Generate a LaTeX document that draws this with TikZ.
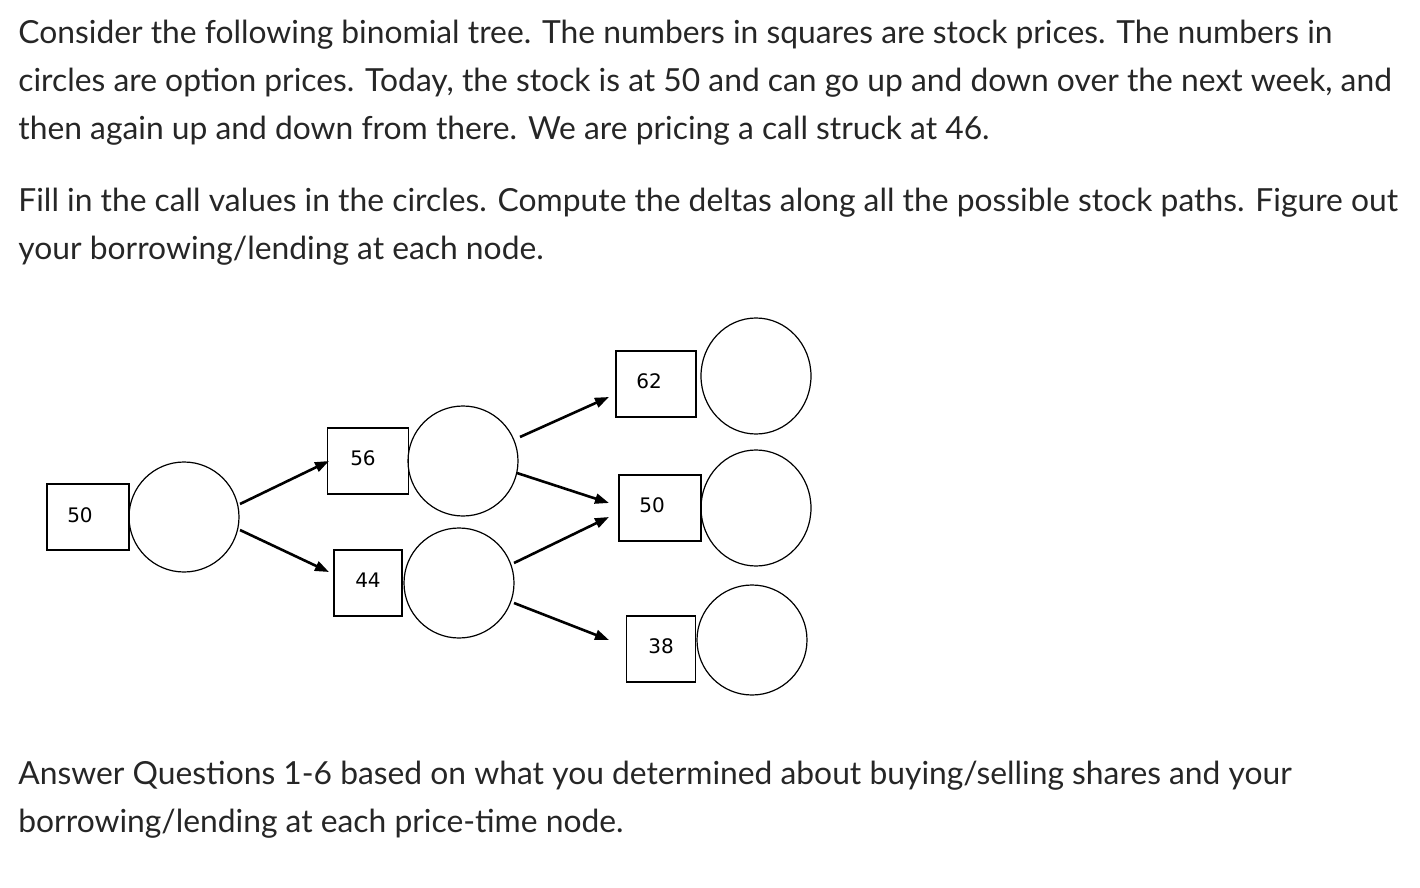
\documentclass[tikz,border=0pt]{standalone}
\usepackage{fontspec}
\setmainfont{Lato}
\newfontfamily\boxfont{DejaVu Sans}
\usetikzlibrary{arrows.meta,shapes.geometric}
\begin{document}
\begin{tikzpicture}[x=0.5pt,y=-0.5pt,
  para/.style={anchor=north west,align=left,font=\fontsize{15.9}{24}\selectfont,text=black!85,inner sep=0pt},
  pricebox/.style={draw,line width=0.6pt,minimum width=#1*0.5pt,minimum height=33pt,font=\boxfont\fontsize{10}{12}\selectfont,inner sep=0pt},
  optc/.style={draw,circle,line width=0.6pt,minimum size=55pt,inner sep=0pt},
  opte/.style={draw,ellipse,line width=0.6pt,minimum width=55pt,minimum height=58pt,inner sep=0pt},
  arr/.style={-{Triangle[length=7pt,width=5pt]},line width=1.3pt}]
\useasboundingbox (0,0) rectangle (1420,888);
\node[para] (t1) at (18,20) {Consider the following binomial tree. The numbers in squares are stock prices. The numbers in\\circles are option prices. Today, the stock is at 50 and can go up and down over the next week, and\\then again up and down from there. We are pricing a call struck at 46.};
\node[para] (t2) at (18,188) {Fill in the call values in the circles. Compute the deltas along all the possible stock paths. Figure out\\your borrowing/lending at each node.};
\node[para] (t3) at (18,761) {Answer Questions 1-6 based on what you determined about buying/selling shares and your\\borrowing/lending at each price-time node.};
\node[pricebox=82] (b0) at (88,517) {\raisebox{2pt}{50\hspace{8pt}}};
\node[optc] (c0) at (184,517) {};
\node[pricebox=81] (bu) at (368,461) {\raisebox{3pt}{56\hspace{5pt}}};
\node[optc] (cu) at (463,461) {};
\node[pricebox=68] (bd) at (368,583) {\raisebox{3pt}{44}};
\node[optc] (cd) at (459,583) {};
\node[pricebox=80] (buu) at (656,384) {\raisebox{3pt}{62\hspace{7pt}}};
\node[opte] (cuu) at (756,376) {};
\node[pricebox=82] (bud) at (660,508) {\raisebox{3pt}{50\hspace{8pt}}};
\node[opte] (cud) at (756,508) {};
\node[pricebox=69] (bdd) at (661,649) {\raisebox{3pt}{38}};
\node[optc] (cdd) at (752,640) {};
\coordinate (a1s) at (240,504); \coordinate (a1e) at (329,461);
\coordinate (a2s) at (240,530); \coordinate (a2e) at (329,572);
\coordinate (a3s) at (520,437); \coordinate (a3e) at (609,397);
\coordinate (a4s) at (517,473); \coordinate (a4e) at (609,503);
\coordinate (a5s) at (514,563); \coordinate (a5e) at (609,517);
\coordinate (a6s) at (514,603); \coordinate (a6e) at (609,640);
\draw[arr] (a1s) -- (a1e);
\draw[arr] (a2s) -- (a2e);
\draw[arr] (a3s) -- (a3e);
\draw[arr] (a4s) -- (a4e);
\draw[arr] (a5s) -- (a5e);
\draw[arr] (a6s) -- (a6e);
\end{tikzpicture}
\end{document}
